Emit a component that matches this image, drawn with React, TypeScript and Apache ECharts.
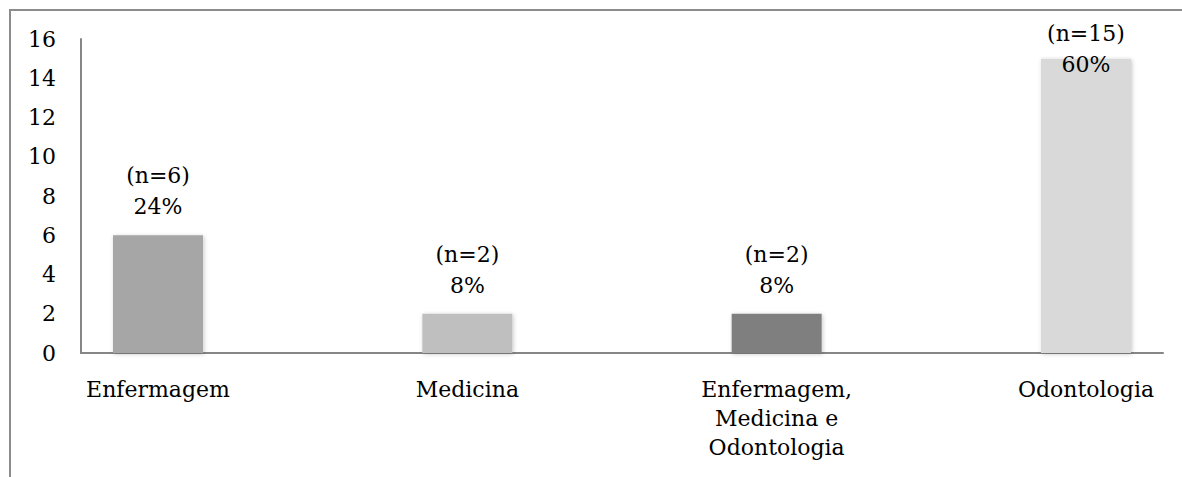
import React, { useEffect, useRef } from "react";
import * as echarts from "echarts";

const categories = ["Enfermagem", "Medicina", "Enfermagem,\nMedicina e\nOdontologia", "Odontologia"];
const counts = [6, 2, 2, 15];
const percents = [24, 8, 8, 60];
const barColors = ["#a6a6a6", "#bfbfbf", "#7f7f7f", "#d9d9d9"];
const labelShiftY = [0, 0, 0, 34];
const yTicks = { min: 0, max: 16, interval: 2 };
const xPositions = [0, 1, 2, 3];

const FONT = "DejaVu Serif";

export default function App() {
  const ref = useRef<HTMLDivElement>(null);
  useEffect(() => {
    if (!ref.current) return;
    const chart = echarts.init(ref.current, null, { renderer: "svg" });
    chart.setOption({
      animation: false,
      backgroundColor: "#ffffff",
      grid: { left: 81, right: 19, top: 39, bottom: 477 - 353, containLabel: false },
      xAxis: {
        type: "value",
        min: -0.249,
        max: 3.249,
        axisLine: { show: true, onZero: false, lineStyle: { color: "#868686", width: 2 } },
        axisTick: { show: false },
        splitLine: { show: false },
        axisLabel: {
          customValues: xPositions,
          formatter: (v: number) => categories[Math.round(v)] ?? "",
          color: "#000",
          fontFamily: FONT,
          fontSize: 22,
          lineHeight: 29,
          margin: 22,
          showMinLabel: true,
          showMaxLabel: true,
        },
      },
      yAxis: {
        type: "value",
        min: yTicks.min,
        max: yTicks.max,
        interval: yTicks.interval,
        axisLine: { show: true, onZero: false, lineStyle: { color: "#868686", width: 2 } },
        axisTick: { show: false },
        splitLine: { show: false },
        axisLabel: { color: "#000", fontFamily: FONT, fontSize: 22, margin: 25 },
      },
      series: [
        {
          type: "bar",
          barWidth: 90,
          data: counts.map((v, i) => ({
            value: [xPositions[i], v],
            itemStyle: {
              color: barColors[i],
              shadowBlur: 4,
              shadowColor: "rgba(0,0,0,0.22)",
              shadowOffsetX: 1,
              shadowOffsetY: 1,
            },
            label: { offset: [0, labelShiftY[i]] },
          })),
          label: {
            show: true,
            position: "top",
            distance: 13,
            color: "#000",
            fontFamily: FONT,
            fontSize: 22,
            lineHeight: 31,
            formatter: (p: any) => `(n=${counts[p.dataIndex]})\n${percents[p.dataIndex]}%`,
          },
        },
      ],
      graphic: [
        {
          type: "polyline",
          shape: { points: [[10, 477], [10, 10], [1182, 10]] },
          style: { stroke: "#8c8c8c", lineWidth: 2, fill: "none" },
          silent: true,
        },
      ],
    });
    return () => chart.dispose();
  }, []);
  return (
    <div
      ref={ref}
      style={{ position: "fixed", left: 0, top: 0, width: 1182, height: 477 }}
    />
  );
}
